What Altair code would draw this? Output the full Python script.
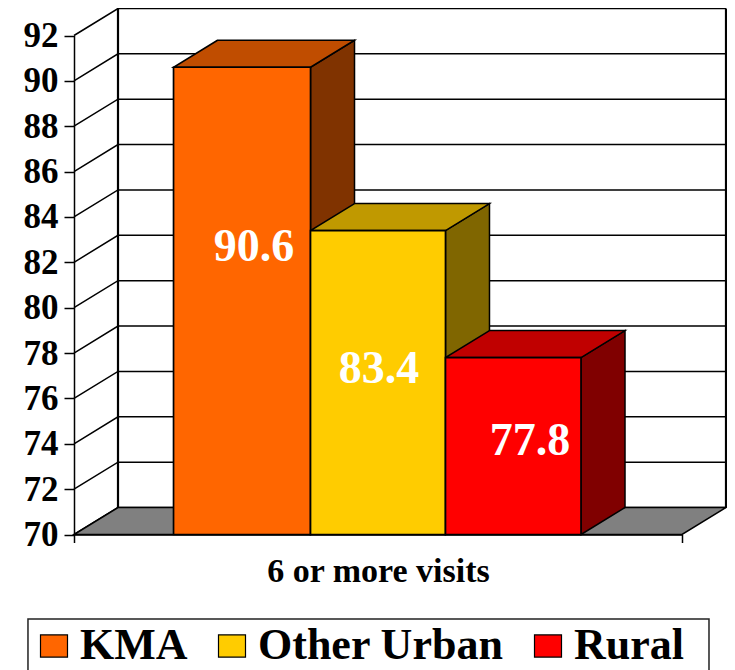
import altair as alt
import pandas as pd

categories = ["KMA", "Other Urban", "Rural"]
values = [90.6, 83.4, 77.8]
front_colors = ["#FF6600", "#FFCC00", "#FF0000"]
top_colors = ["#C04D00", "#C09900", "#C00000"]
side_colors = ["#803300", "#806600", "#800000"]
bar_edges = [0.1637, 0.3890, 0.6110, 0.8339]
label_x = [0.296, 0.5016, 0.750]
label_y = [82.67, 77.30, 74.12]
y_ticks = list(range(70, 93, 2))
x_ticks = [0, 1]
group_title = "6 or more visits"
DEPTH_X = 44 / 608
DEPTH_Y = 27 / 22.68
Y0 = 70
# legend frame, in chart units
frame_x = [-0.0757, 1.0444]
frame_y = [66.27, 63.8]

FONT = "Liberation Serif"
W, H = 719, 662

x_scale = alt.Scale(domain=[0, 1], range=[66, 674], nice=False, zero=False)
y_scale = alt.Scale(domain=[70, 92], range=[526.5, 27.5], nice=False, zero=False)
x_axis = alt.Axis(
    values=x_ticks, labels=False, grid=False, title=group_title, offset=-135.5,
    tickSize=8, tickColor="black", tickWidth=1.5, domainColor="black", domainWidth=1.5,
    titleFont=FONT, titleFontWeight="bold", titleFontSize=34, titleColor="black",
    titlePadding=11,
)
y_axis = alt.Axis(
    values=y_ticks, grid=False, title=None, offset=-66,
    tickSize=10, tickColor="black", tickWidth=1.5, domainColor="black", domainWidth=1.5,
    labelFont=FONT, labelFontWeight="bold", labelFontSize=35, labelColor="black",
    labelPadding=6, labelBaseline="middle", labelOverlap=False,
)
X = lambda f: alt.X(f, type="quantitative", scale=x_scale, axis=x_axis)
Y = lambda f: alt.Y(f, type="quantitative", scale=y_scale, axis=y_axis)

# walls: gridlines run front-left -> back-left -> back-right
grid_rows = []
for t in y_ticks:
    grid_rows += [
        {"t": t, "i": 0, "x": 0, "y": t},
        {"t": t, "i": 1, "x": DEPTH_X, "y": t + DEPTH_Y},
        {"t": t, "i": 2, "x": 1 + DEPTH_X, "y": t + DEPTH_Y},
    ]
grid = alt.Chart(pd.DataFrame(grid_rows)).mark_line(color="black", strokeWidth=1.5).encode(
    x=X("x"), y=Y("y"), detail="t:N", order="i:Q"
)

wall_rows = [
    {"k": "l", "i": 0, "x": DEPTH_X, "y": Y0 + DEPTH_Y},
    {"k": "l", "i": 1, "x": DEPTH_X, "y": 92 + DEPTH_Y},
    {"k": "r", "i": 0, "x": 1 + DEPTH_X, "y": Y0 + DEPTH_Y},
    {"k": "r", "i": 1, "x": 1 + DEPTH_X, "y": 92 + DEPTH_Y},
]
walls = alt.Chart(pd.DataFrame(wall_rows)).mark_line(color="black", strokeWidth=2.2).encode(
    x=X("x"), y=Y("y"), detail="k:N", order="i:Q"
)

floor_df = pd.DataFrame([
    {"y": Y0, "x": 0, "x2": 1},
    {"y": Y0 + DEPTH_Y, "x": DEPTH_X, "x2": 1 + DEPTH_X},
])
floor = alt.Chart(floor_df).mark_area(
    orient="horizontal", color="#808080", stroke="black", strokeWidth=1.5
).encode(x=X("x"), x2="x2:Q", y=Y("y"))

# bars
side_rows, top_rows, front_rows = [], [], []
for i, (c, v) in enumerate(zip(categories, values)):
    l, r = bar_edges[i], bar_edges[i + 1]
    side_rows += [
        {"c": c, "hex": side_colors[i], "x": r, "y": Y0, "y2": v},
        {"c": c, "hex": side_colors[i], "x": r + DEPTH_X, "y": Y0 + DEPTH_Y, "y2": v + DEPTH_Y},
    ]
    top_rows += [
        {"c": c, "hex": top_colors[i], "y": v, "x": l, "x2": r},
        {"c": c, "hex": top_colors[i], "y": v + DEPTH_Y, "x": l + DEPTH_X, "x2": r + DEPTH_X},
    ]
    front_rows.append({"c": c, "x": l, "x2": r, "y": Y0, "y2": v})

sides = alt.Chart(pd.DataFrame(side_rows)).mark_area(stroke="black", strokeWidth=1.5).encode(
    x=X("x"), y=Y("y"), y2="y2:Q",
    fill=alt.Fill("hex:N", scale=None),
)
tops = alt.Chart(pd.DataFrame(top_rows)).mark_area(
    orient="horizontal", stroke="black", strokeWidth=1.5
).encode(
    x=X("x"), x2="x2:Q", y=Y("y"),
    fill=alt.Fill("hex:N", scale=None),
)
fronts = alt.Chart(pd.DataFrame(front_rows)).mark_rect(stroke="black", strokeWidth=1.7).encode(
    x=X("x"), x2="x2:Q", y=Y("y"), y2="y2:Q",
    color=alt.Color(
        "c:N",
        scale=alt.Scale(domain=categories, range=front_colors),
        sort=categories,
        legend=alt.Legend(
            title=None, orient="none", legendX=24, legendY=616, columns=3,
            direction="horizontal",
            symbolType="M-1,-0.82H1V0.82H-1Z", symbolSize=729, symbolStrokeColor="black",
            symbolStrokeWidth=1.2, symbolOpacity=1,
            labelFont=FONT, labelFontWeight="bold", labelFontSize=44, labelColor="black",
            labelLimit=400, labelOffset=4, columnPadding=22,
            padding=0, rowPadding=0, labelBaseline="middle",
        ),
    ),
)

labels_df = pd.DataFrame({"x": label_x, "y": label_y, "t": [f"{v:.1f}" for v in values]})
labels = alt.Chart(labels_df).mark_text(
    font=FONT, fontWeight="bold", fontSize=46, color="white", baseline="middle", align="center"
).encode(x=X("x"), y=Y("y"), text="t:N")

frame_df = pd.DataFrame({"x": [frame_x[0]], "x2": [frame_x[1]], "y": [frame_y[0]], "y2": [frame_y[1]]})
frame = alt.Chart(frame_df).mark_rect(fill="white", stroke="#222222", strokeWidth=1.5).encode(
    x=X("x"), x2="x2:Q", y=Y("y"), y2="y2:Q"
)

chart = alt.layer(frame, grid, walls, floor, sides, tops, fronts, labels).properties(
    width=W, height=H, padding=0,
    autosize=alt.AutoSizeParams(type="none"),
).configure_view(stroke=None)

chart.save("out.html", embed_options={"renderer": "svg", "actions": False})
